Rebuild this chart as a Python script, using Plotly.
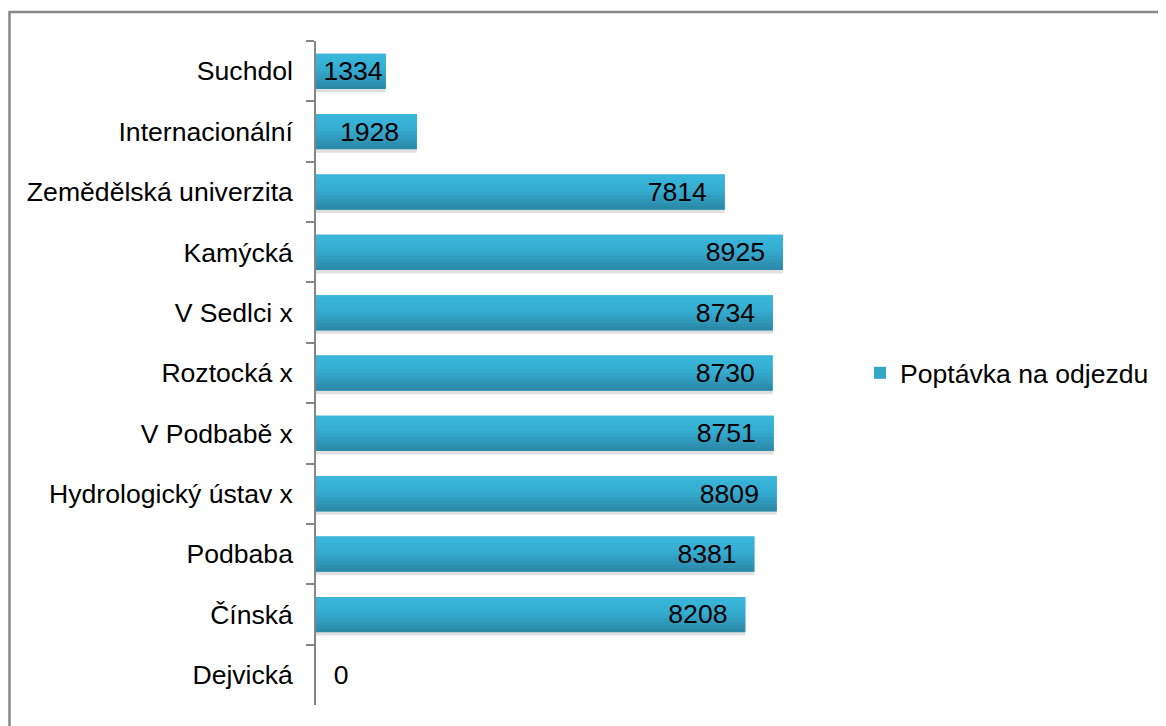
import plotly.graph_objects as go

categories = ["Suchdol", "Internacionální", "Zemědělská univerzita", "Kamýcká",
              "V Sedlci x", "Roztocká x", "V Podbabě x", "Hydrologický ústav x",
              "Podbaba", "Čínská", "Dejvická"]
values = [1334, 1928, 7814, 8925, 8734, 8730, 8751, 8809, 8381, 8208, 0]
series_name = "Poptávka na odjezdu"

# page has an 8px body margin, so the figure is sized/offset to compensate
W, H = 1158, 718
ML, MR, MT, MB = 308, 327, 33, 21
PW, PH = W - ML - MR, H - MT - MB

FONT = "Liberation Sans, Arial, sans-serif"
FS = 26.6
BW = 0.58
NB = "\u00a0"

fig = go.Figure()

# shadow
fig.add_trace(go.Bar(y=categories, x=values, orientation="h", width=BW, offset=-BW / 2 + 0.06,
                     marker=dict(color="rgba(0,0,0,0.12)", line=dict(width=0)),
                     showlegend=False, hoverinfo="skip"))
# base (legend)
fig.add_trace(go.Bar(y=categories, x=values, orientation="h", width=BW, offset=-BW / 2,
                     name=series_name, marker=dict(color="#33A6C8", line=dict(width=0)),
                     hoverinfo="skip"))
# gradient bands
bands = ["#39B6DA", "#38B4D8", "#37B2D6", "#36AFD3", "#35ABCF", "#33A5C9",
         "#319EC1", "#2F97B8", "#2D90B0", "#2B8AA8"]
nb = len(bands)
h = BW / nb
for i, c in enumerate(bands):
    fig.add_trace(go.Bar(y=categories, x=values, orientation="h", width=h + 0.004,
                         offset=-BW / 2 + i * h,
                         marker=dict(color=c, line=dict(width=0)),
                         showlegend=False, hoverinfo="skip"))
# labels
def label(v):
    if v == 0:
        return NB * 2 + str(v)
    if v < 1500:
        return str(v)
    return str(v) + NB * 2

texts = [label(v) for v in values]
positions = ["inside" if v > 0 else "outside" for v in values]
fig.add_trace(go.Bar(y=categories, x=values, orientation="h", width=BW, offset=-BW / 2,
                     marker=dict(color="rgba(0,0,0,0)", line=dict(width=0)),
                     text=texts, textposition=positions, insidetextanchor="end",
                     textfont=dict(family=FONT, size=FS, color="#000000"),
                     cliponaxis=False, constraintext="none",
                     showlegend=False, hoverinfo="skip"))

fig.update_layout(
    width=W, height=H,
    margin=dict(l=ML, r=MR, t=MT, b=MB, autoexpand=False),
    barmode="overlay",
    paper_bgcolor="white", plot_bgcolor="white",
    font=dict(family=FONT, size=FS, color="#000000"),
    uniformtext=dict(minsize=FS, mode="show"),
    showlegend=True,
    legend=dict(x=(852 - ML) / PW, y=0.5, xanchor="left", yanchor="middle",
                font=dict(family=FONT, size=FS, color="#000000"),
                bgcolor="rgba(0,0,0,0)", itemclick=False),
    xaxis=dict(range=[0, 10000], visible=False, fixedrange=True),
    yaxis=dict(autorange="reversed", showline=True, linecolor="#868686", linewidth=1.5,
               ticks="outside", tickson="boundaries", ticklen=8, tickcolor="#868686",
               tickwidth=1.5, ticklabelstandoff=16, showgrid=False, zeroline=False,
               tickfont=dict(family=FONT, size=FS, color="#000000"), fixedrange=True),
    shapes=[dict(type="rect", xref="paper", yref="paper",
                 x0=(1.5 - ML) / PW, x1=(W + 20 - ML) / PW,
                 y0=(H - MB - (H + 20)) / PH, y1=(H - MB - 4) / PH,
                 line=dict(color="#888888", width=2.5), fillcolor="rgba(0,0,0,0)",
                 layer="below")],
)

fig.write_html("out.html")
